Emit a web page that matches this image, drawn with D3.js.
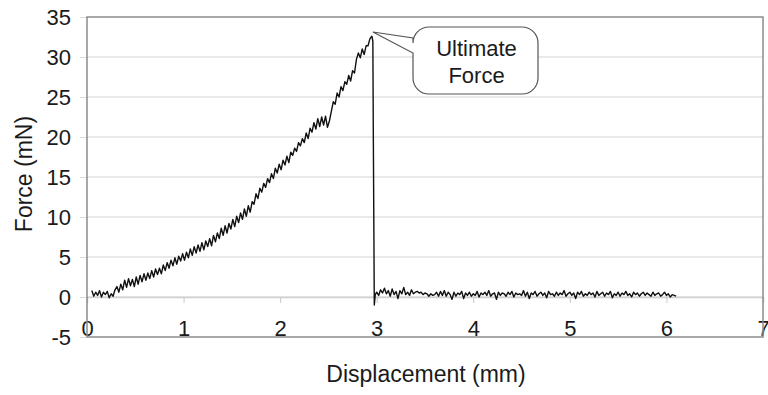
<!DOCTYPE html>
<html>
<head>
<meta charset="utf-8">
<script src="https://cdn.jsdelivr.net/npm/d3@7"></script>
<style>
  body { margin: 0; background: #fff; }
  text { font-family: "Liberation Sans", Arial, sans-serif; fill: #1a1a1a; }
</style>
</head>
<body>
<div id="chart"></div>
<script>
// ---------------------------------------------
// data
// ---------------------------------------------
let xTicks = [0, 1, 2, 3, 4, 5, 6, 7];
let yTicks = [-5, 0, 5, 10, 15, 20, 25, 30, 35];

// loading part, displacement (mm) / force (mN)
let loadDisp = [0.05,0.07,0.09,0.11,0.13,0.15,0.17,0.19,0.21,0.23,0.25,0.27,0.29,0.31,0.33,0.35,0.37,0.39,
  0.41,0.43,0.45,0.47,0.49,0.51,0.53,0.55,0.57,0.59,0.61,0.63,0.65,0.67,0.69,0.71,0.73,0.75,0.77,0.79,
  0.81,0.83,0.85,0.87,0.89,0.91,0.93,0.95,0.97,0.99,1.01,1.03,1.05,1.07,1.09,1.11,1.13,1.15,1.17,1.19,
  1.21,1.23,1.25,1.27,1.29,1.31,1.33,1.35,1.37,1.39,1.41,1.43,1.45,1.47,1.49,1.51,1.53,1.55,1.57,1.59,
  1.61,1.63,1.65,1.67,1.69,1.71,1.73,1.75,1.77,1.79,1.81,1.83,1.85,1.87,1.89,1.91,1.93,1.95,1.97,1.99,
  2.01,2.03,2.05,2.07,2.09,2.11,2.13,2.15,2.17,2.19,2.21,2.23,2.25,2.27,2.29,2.31,2.33,2.35,2.37,2.39,
  2.41,2.43,2.45,2.47,2.49,2.51,2.53,2.55,2.57,2.59,2.61,2.63,2.65,2.67,2.69,2.71,2.73,2.75,2.77,2.79,
  2.81,2.83,2.85,2.87,2.89,2.91,2.93,2.95,2.96,2.965,2.97,2.975,2.985];
let loadForce = [0.8,0.1,0.6,0.2,0.8,0.0,0.6,0.3,0.7,-0.1,0.4,0.1,0.9,1.3,0.6,1.6,0.9,2.1,
  1.2,2.3,1.4,2.2,1.3,2.5,1.6,2.7,1.9,2.9,2.1,3.0,2.3,3.3,2.5,3.5,2.8,3.6,2.9,4.0,
  3.3,4.3,3.6,4.6,3.9,4.9,4.1,5.1,4.5,5.4,4.6,5.6,4.9,6.0,5.2,6.3,5.5,6.5,5.7,6.8,
  5.9,7.0,6.3,7.3,6.4,7.7,6.9,8.0,7.3,8.6,7.7,8.9,8.0,9.2,8.5,9.7,8.8,10.1,9.3,10.5,
  9.7,11.0,10.1,11.4,10.6,11.9,11.6,12.9,12.3,13.6,13.1,14.2,13.7,14.8,14.3,15.4,14.8,16.1,15.5,16.6,
  15.9,17.1,16.5,17.6,16.8,18.1,17.7,18.6,18.2,19.3,18.9,19.8,19.3,20.5,19.8,21.1,20.6,21.8,21.0,22.3,
  21.3,22.5,21.5,22.6,21.2,22.0,23.2,24.4,24.1,25.5,25.0,26.3,25.8,26.9,26.6,27.7,27.0,28.3,28.0,29.7,
  30.5,29.9,31.0,30.3,31.4,31.4,32.3,32.6,32.0,20.0,9.5,-1.0,0.3];

// after failure, displacement (mm) / force (mN)
let tailDisp = [3.00,3.02,3.04,3.06,3.08,3.10,3.12,3.14,3.16,3.18,3.20,3.22,3.24,3.26,3.28,3.30,3.32,3.34,
  3.36,3.38,3.40,3.42,3.44,3.46,3.48,3.50,3.52,3.54,3.56,3.58,3.60,3.62,3.64,3.66,3.68,3.70,3.72,3.74,
  3.76,3.78,3.80,3.82,3.84,3.86,3.88,3.90,3.92,3.94,3.96,3.98,4.00,4.02,4.04,4.06,4.08,4.10,4.12,4.14,
  4.16,4.18,4.20,4.22,4.24,4.26,4.28,4.30,4.32,4.34,4.36,4.38,4.40,4.42,4.44,4.46,4.48,4.50,4.52,4.54,
  4.56,4.58,4.60,4.62,4.64,4.66,4.68,4.70,4.72,4.74,4.76,4.78,4.80,4.82,4.84,4.86,4.88,4.90,4.92,4.94,
  4.96,4.98,5.00,5.02,5.04,5.06,5.08,5.10,5.12,5.14,5.16,5.18,5.20,5.22,5.24,5.26,5.28,5.30,5.32,5.34,
  5.36,5.38,5.40,5.42,5.44,5.46,5.48,5.50,5.52,5.54,5.56,5.58,5.60,5.62,5.64,5.66,5.68,5.70,5.72,5.74,
  5.76,5.78,5.80,5.82,5.84,5.86,5.88,5.90,5.92,5.94,5.96,5.98,6.00,6.02,6.04,6.06,6.08,6.10];
let tailForce = [0.6,0.2,0.9,0.5,1.1,0.4,0.8,0.1,1.0,0.3,0.7,-0.2,0.8,0.4,1.2,0.3,0.6,0.2,
  0.9,0.4,0.6,0.7,0.5,0.6,0.3,0.5,0.4,0.1,0.4,0.2,0.3,0.6,0.1,0.7,0.2,0.8,0.1,0.6,
  0.3,-0.3,0.6,0.1,0.5,0.3,0.7,-0.2,0.5,0.2,0.6,0.1,0.4,0.2,0.7,0.0,0.5,0.3,0.6,0.2,
  0.8,0.1,0.4,0.5,-0.3,0.6,0.2,0.5,0.4,0.1,0.6,0.3,0.7,0.0,0.5,0.3,0.4,0.2,0.8,0.1,
  0.6,-0.2,0.5,0.3,0.7,0.1,0.4,0.6,0.2,0.5,-0.1,0.7,0.3,0.4,0.1,0.6,0.2,0.5,0.3,0.8,
  0.1,0.4,0.6,0.2,0.5,-0.2,0.6,0.3,0.7,0.1,0.4,0.2,0.6,0.3,0.5,0.0,0.7,0.2,0.4,0.6,
  0.1,0.5,0.3,0.7,-0.1,0.4,0.2,0.6,0.1,0.5,0.3,0.7,0.2,0.4,0.0,0.6,0.3,0.5,0.1,0.4,
  0.6,0.2,0.5,0.3,0.1,0.6,0.2,0.4,0.5,0.1,0.3,0.6,0.2,0.4,0.0,0.3,0.2,0.1];

let calloutText = ["Ultimate", "Force"];
let peak = {x: 2.95, y: 32.5};

// ---------------------------------------------
// layout
// ---------------------------------------------
let W = 768, H = 395;
let plot = {left: 87, right: 763, top: 17, bottom: 337};

let svg = d3.select('#chart').append('svg')
    .attr('width', W)
    .attr('height', H);

let x = d3.scaleLinear().domain([0, 7]).range([plot.left, plot.right]);
let y = d3.scaleLinear().domain([-5, 35]).range([plot.bottom, plot.top]);

// y ticks (plain hyphen for negatives, like the original)
let yAxis = svg.append('g')
    .attr('transform', 'translate(' + plot.left + ',0)')
    .call(d3.axisLeft(y).tickValues(yTicks).tickSize(7).tickPadding(9)
        .tickFormat(d => String(d)));
yAxis.select('.domain').remove();
yAxis.selectAll('line').attr('stroke', '#d9d9d9');
yAxis.selectAll('text')
    .style('font-size', '22px')
    .attr('fill', '#1a1a1a');

// gridlines
svg.append('g').selectAll('line')
    .data(yTicks.filter(d => d > -5 && d < 35))
  .enter().append('line')
    .attr('x1', plot.left).attr('x2', plot.right)
    .attr('y1', d => y(d)).attr('y2', d => y(d))
    .attr('stroke', '#e2e2e2')
    .attr('stroke-width', 1.5);

// x axis sits on the zero line, labels pushed down near the frame
let xAxis = svg.append('g')
    .attr('transform', 'translate(0,' + y(0) + ')')
    .call(d3.axisBottom(x).tickValues(xTicks).tickSize(6).tickPadding(17)
        .tickFormat(d => String(d)));
xAxis.select('.domain').attr('stroke', '#d0d0d0').attr('stroke-width', 1.5);
xAxis.selectAll('line').attr('stroke', '#c8c8c8');
xAxis.selectAll('text')
    .style('font-size', '22px')
    .attr('fill', '#1a1a1a');

// frame
svg.append('rect')
    .attr('x', plot.left).attr('y', plot.top)
    .attr('width', plot.right - plot.left)
    .attr('height', plot.bottom - plot.top)
    .attr('fill', 'none')
    .attr('stroke', '#8c8c8c')
    .attr('stroke-width', 1.5);

// the trace
let line = d3.line()
    .x(d => x(d[0]))
    .y(d => y(d[1]));

let pts = loadDisp.map((d, i) => [d, loadForce[i]])
    .concat(tailDisp.map((d, i) => [d, tailForce[i]]));

svg.append('path')
    .datum(pts)
    .attr('d', line)
    .attr('fill', 'none')
    .attr('stroke', '#111')
    .attr('stroke-width', 1.4)
    .attr('stroke-linejoin', 'round');

// ---------------------------------------------
// callout
// ---------------------------------------------
let bx = 413, by = 27, bw = 125, bh = 67, r = 16;
let tipX = x(peak.x) + 1, tipY = y(peak.y) - 5;
let wedgeTop = 38, wedgeBot = 53;
let cp = d3.path();
cp.moveTo(bx + r, by);
cp.lineTo(bx + bw - r, by);
cp.arcTo(bx + bw, by, bx + bw, by + r, r);
cp.lineTo(bx + bw, by + bh - r);
cp.arcTo(bx + bw, by + bh, bx + bw - r, by + bh, r);
cp.lineTo(bx + r, by + bh);
cp.arcTo(bx, by + bh, bx, by + bh - r, r);
cp.lineTo(bx, wedgeBot);
cp.lineTo(tipX, tipY);
cp.lineTo(bx, wedgeTop);
cp.lineTo(bx, by + r);
cp.arcTo(bx, by, bx + r, by, r);
cp.closePath();

svg.append('path')
    .attr('d', cp.toString())
    .attr('fill', '#fff')
    .attr('stroke', '#555')
    .attr('stroke-width', 1.2);

svg.append('g').selectAll('text')
    .data(calloutText)
  .enter().append('text')
    .attr('x', bx + bw / 2 + 1)
    .attr('y', (d, i) => 56 + i * 27)
    .attr('text-anchor', 'middle')
    .style('font-size', '22px')
    .text(d => d);

// ---------------------------------------------
// axis titles
// ---------------------------------------------
svg.append('text')
    .attr('x', 426)
    .attr('y', 382)
    .attr('text-anchor', 'middle')
    .style('font-size', '23px')
    .text('Displacement (mm)');

svg.append('text')
    .attr('transform', 'translate(32,174) rotate(-90)')
    .attr('text-anchor', 'middle')
    .style('font-size', '23px')
    .text('Force (mN)');
</script>
</body>
</html>
